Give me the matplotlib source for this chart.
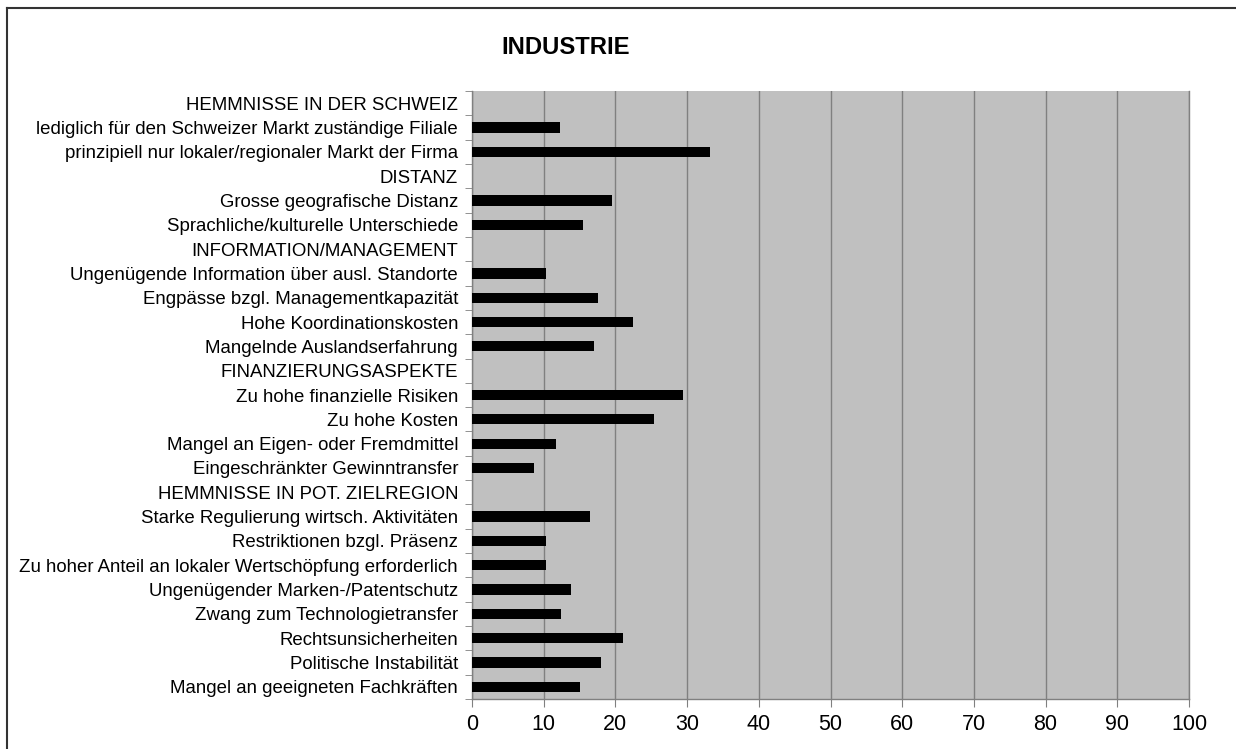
import matplotlib.pyplot as plt
from matplotlib.lines import Line2D

plt.rcParams['font.family'] = ['Liberation Sans', 'DejaVu Sans']

# categories from top to bottom (headers carry no value)
labels = ['HEMMNISSE IN DER SCHWEIZ',
          'lediglich für den Schweizer Markt zuständige Filiale',
          'prinzipiell nur lokaler/regionaler Markt der Firma',
          'DISTANZ',
          'Grosse geografische Distanz',
          'Sprachliche/kulturelle Unterschiede',
          'INFORMATION/MANAGEMENT',
          'Ungenügende Information über ausl. Standorte',
          'Engpässe bzgl. Managementkapazität',
          'Hohe Koordinationskosten',
          'Mangelnde Auslandserfahrung',
          'FINANZIERUNGSASPEKTE',
          'Zu hohe finanzielle Risiken',
          'Zu hohe Kosten',
          'Mangel an Eigen- oder Fremdmittel',
          'Eingeschränkter Gewinntransfer',
          'HEMMNISSE IN POT. ZIELREGION',
          'Starke Regulierung wirtsch. Aktivitäten',
          'Restriktionen bzgl. Präsenz',
          'Zu hoher Anteil an lokaler Wertschöpfung erforderlich',
          'Ungenügender Marken-/Patentschutz',
          'Zwang zum Technologietransfer',
          'Rechtsunsicherheiten',
          'Politische Instabilität',
          'Mangel an geeigneten Fachkräften']
values = [0, 12.3, 33.2, 0, 19.5, 15.5, 0, 10.3, 17.6, 22.5, 17.0, 0,
          29.4, 25.4, 11.7, 8.6, 0, 16.5, 10.3, 10.3, 13.8, 12.4, 21.1,
          18.0, 15.1]
xticks = list(range(0, 101, 10))

fig = plt.figure(figsize=(12.36, 7.49), dpi=100)
ax = fig.add_axes([472/1236, 1-699/749, (1189-472)/1236, (699-91)/749])
ax.set_facecolor('#c0c0c0')

ypos = list(range(len(labels)))
ax.barh(ypos, values, height=0.42, color='black', zorder=3)
ax.set_ylim(len(labels)-0.5, -0.5)
ax.set_xlim(0, 100)

ax.set_yticks(ypos)
ax.set_yticklabels(labels, fontsize=13.4)
ax.set_yticks([y+0.5 for y in range(-1, len(labels))], minor=True)
ax.tick_params(axis='y', which='major', length=0, pad=10)
ax.tick_params(axis='y', which='minor', length=5, color='#808080')

ax.set_xticks(xticks)
ax.set_xticklabels([str(t) for t in xticks], fontsize=15.5)
ax.tick_params(axis='x', length=6, color='#808080', pad=5)
ax.xaxis.grid(True, color='#808080', linewidth=1)
ax.set_axisbelow(True)

for s in ['left', 'bottom', 'right']:
    ax.spines[s].set_color('#808080')
    ax.spines[s].set_linewidth(1)
ax.spines['top'].set_visible(False)

fig.text(566/1236, 1-48/749, 'INDUSTRIE', ha='center', va='center',
         fontsize=17.2, fontweight='bold')

# outer frame of the chart (only top and left edges are visible)
x0 = 7/1236
y0 = 1-8/749
fig.lines.append(Line2D([x0, 1.0], [y0, y0], transform=fig.transFigure,
                        color='#333333', linewidth=1.5))
fig.lines.append(Line2D([x0, x0], [0.0, y0], transform=fig.transFigure,
                        color='#333333', linewidth=1.5))

fig.savefig('out.png', dpi=100)
